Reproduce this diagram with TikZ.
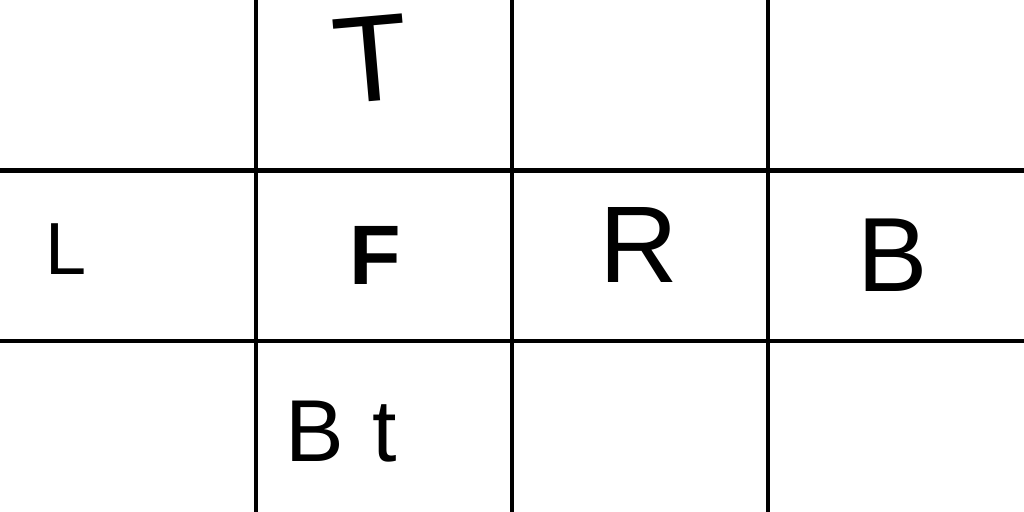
\documentclass[tikz,border=0pt]{standalone}
\usepackage{fontspec}
\setmainfont{Liberation Sans}
\begin{document}
\begin{tikzpicture}[x=0.01cm,y=-0.01cm,
  grid/.style={line width=0.045cm, black},
  hand/.style={inner sep=0pt, anchor=center, text=black},
  bold/.style={inner sep=0pt, anchor=center, text=black, font=\bfseries\fontsize{24}{24}\selectfont}]
\useasboundingbox[fill=white] (0,0) rectangle (1024,512);
% grid
\draw[grid] (256,0) -- (256,512);
\draw[grid] (512,0) -- (512,512);
\draw[grid] (768,0) -- (768,512);
\draw[grid] (0,170.5) -- (1024,170.5);
\draw[grid] (0,341) -- (1024,341);
% labels
\node[hand, font=\fontsize{35}{35}\selectfont, rotate=5] (top) at (371,59) {T};
\node[hand, font=\fontsize{21}{21}\selectfont] (left) at (66,249) {L};
\node[bold] (front) at (375,255) {F};
\node[hand, font=\fontsize{31}{31}\selectfont] (right) at (639,245) {R};
\node[hand, font=\fontsize{30}{30}\selectfont] (back) at (893,255) {B};
\node[hand, font=\fontsize{25}{25}\selectfont] (bottom) at (341,432) {B\kern 8pt t};
\end{tikzpicture}
\end{document}
